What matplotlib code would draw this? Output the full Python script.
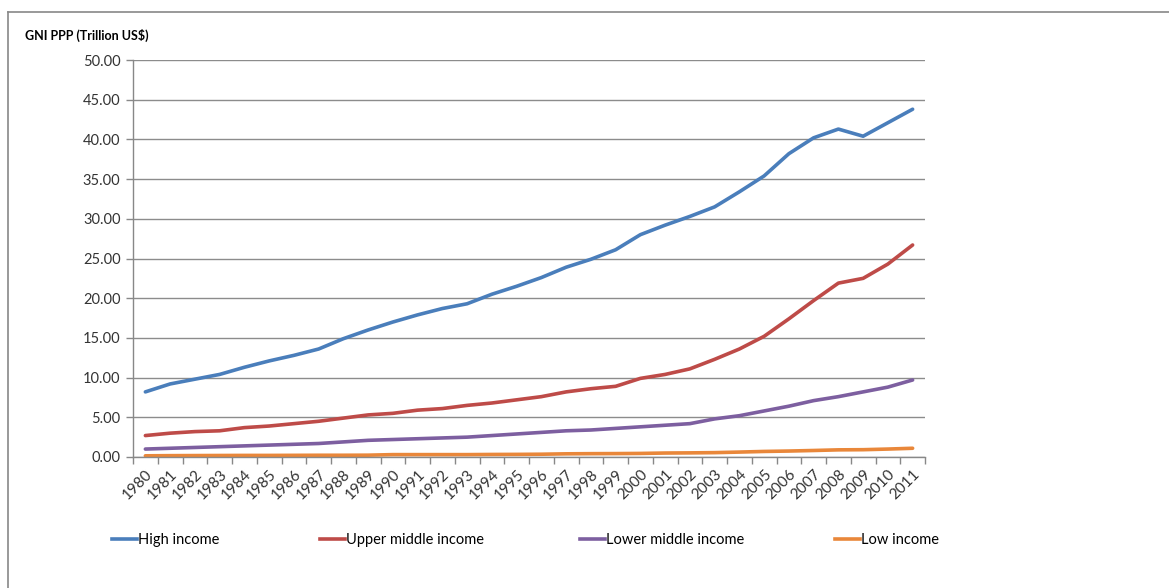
import matplotlib
matplotlib.use("Agg")
import matplotlib.pyplot as plt
from matplotlib.lines import Line2D

plt.rcParams['font.family'] = ['Lato', 'DejaVu Sans']

years = [str(y) for y in range(1980, 2012)]

high_income = [8.2, 9.2, 9.8, 10.4, 11.3, 12.1, 12.8, 13.6, 14.9, 16.0,
               17.0, 17.9, 18.7, 19.3, 20.5, 21.5, 22.6, 23.9, 24.9, 26.1,
               28.0, 29.2, 30.3, 31.5, 33.4, 35.4, 38.2, 40.2, 41.3, 40.4,
               42.1, 43.8]
upper_middle = [2.7, 3.0, 3.2, 3.3, 3.7, 3.9, 4.2, 4.5, 4.9, 5.3,
                5.5, 5.9, 6.1, 6.5, 6.8, 7.2, 7.6, 8.2, 8.6, 8.9,
                9.9, 10.4, 11.1, 12.3, 13.6, 15.2, 17.4, 19.7, 21.9, 22.5,
                24.3, 26.7]
lower_middle = [1.0, 1.1, 1.2, 1.3, 1.4, 1.5, 1.6, 1.7, 1.9, 2.1,
                2.2, 2.3, 2.4, 2.5, 2.7, 2.9, 3.1, 3.3, 3.4, 3.6,
                3.8, 4.0, 4.2, 4.8, 5.2, 5.8, 6.4, 7.1, 7.6, 8.2,
                8.8, 9.7]
low_income = [0.15, 0.17, 0.18, 0.19, 0.2, 0.2, 0.21, 0.22, 0.22, 0.23,
              0.3, 0.3, 0.3, 0.3, 0.32, 0.33, 0.35, 0.4, 0.42, 0.43,
              0.45, 0.5, 0.52, 0.55, 0.62, 0.7, 0.75, 0.82, 0.9, 0.92,
              1.0, 1.1]

series = [("High income", high_income, "#4A7EBB"),
          ("Upper middle income", upper_middle, "#BE4B48"),
          ("Lower middle income", lower_middle, "#7D5FA0"),
          ("Low income", low_income, "#E9873A")]

fig = plt.figure(figsize=(11.69, 5.88), dpi=100)
ax = fig.add_axes([133 / 1169, 1 - 457 / 588, (925 - 133) / 1169, (457 - 60) / 588])

x = list(range(len(years)))
for name, vals, col in series:
    ax.plot(x, vals, color=col, lw=2.6, solid_capstyle='round', solid_joinstyle='round')

ax.set_xlim(-0.5, len(years) - 0.5)
ax.set_ylim(0, 50)
ax.set_yticks(range(0, 51, 5))
ax.set_yticklabels([f"{v:.2f}" for v in range(0, 51, 5)], fontsize=10.5, color="#333333")
ax.set_xticks(x)
ax.set_xticklabels(years, rotation=45, ha='right', rotation_mode='anchor', fontsize=11, color="#333333")
ax.tick_params(axis='x', length=0, pad=7)
ax.set_xticks([i - 0.5 for i in range(len(years) + 1)], minor=True)
ax.tick_params(axis='x', which='minor', length=5, color="#888888", width=1)
ax.tick_params(axis='y', length=5, color="#888888", width=1, pad=4)
ax.grid(axis='y', color="#8c8c8c", lw=1)
ax.set_axisbelow(True)
for s in ['top', 'right']:
    ax.spines[s].set_visible(False)
for s in ['left', 'bottom']:
    ax.spines[s].set_color("#888888")
    ax.spines[s].set_linewidth(1)

fig.text(25 / 1169, 1 - 35 / 588, "GNI PPP (Trillion US$)", fontsize=9, fontweight='bold',
         va='center', ha='left')

# legend entries spread along the bottom like the original
leg_x = [112, 320, 580, 835]
for (name, vals, col), lx in zip(series, leg_x):
    h = Line2D([], [], color=col, lw=2.6)
    fig.legend([h], [name], loc='center left', bbox_to_anchor=(lx / 1169, 1 - 540 / 588),
               frameon=False, fontsize=10.5, handlelength=1.7, handletextpad=0.1,
               borderpad=0, borderaxespad=0)

# outer chart frame (top and left edges visible)
fig.add_artist(Line2D([8 / 1169, 8 / 1169], [0, 1 - 12 / 588], color="#888888", lw=1.2,
                      transform=fig.transFigure))
fig.add_artist(Line2D([8 / 1169, 1], [1 - 12 / 588, 1 - 12 / 588], color="#888888", lw=1.2,
                      transform=fig.transFigure))

fig.savefig("out.png", dpi=100)
